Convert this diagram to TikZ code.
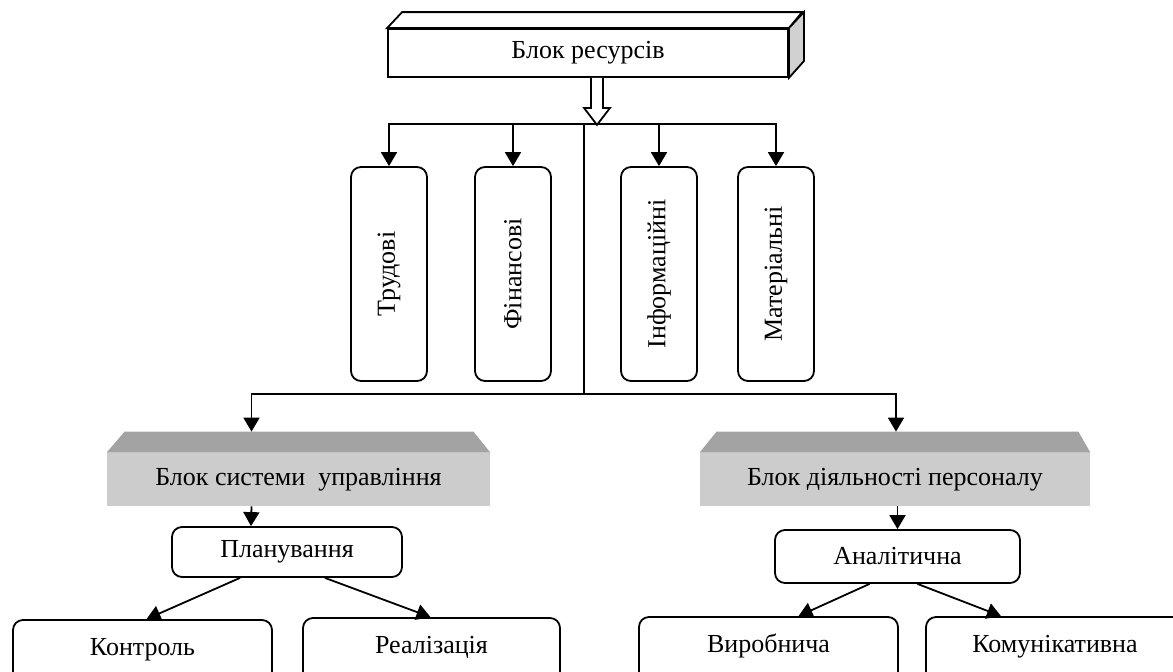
\documentclass[tikz,border=0pt]{standalone}
\usepackage{fontspec}
\setmainfont{Liberation Serif}
\usepackage{graphicx}
\usetikzlibrary{arrows.meta,calc}
\begin{document}
\begin{tikzpicture}[x=0.5pt,y=-0.5pt]
\tikzset{
  lbl/.style={font=\fontsize{13}{15}\selectfont},
  blk/.style={lbl,draw,line width=0.9pt,fill=white,inner sep=0pt},
  rbox/.style={blk,rounded corners=5pt},
  vbox/.style={rbox,minimum width=38pt,minimum height=107pt},
  hbox/.style={rbox,minimum height=25pt},
  lowbox/.style={rbox,anchor=base,text height=17.5pt,text depth=16pt},
  gface/.style={lbl,fill=black!20,inner sep=0pt,minimum height=26.5pt},
  gtop/.style={fill=black!36},
  lnk/.style={line width=0.9pt},
  arr/.style={lnk,-{Triangle[width=8pt,length=7pt]}},
}
\useasboundingbox (0,0) rectangle (1173,671);
\clip (0,0) rectangle (1173,671);

%% Resource block
\node[blk,minimum width=200pt,minimum height=24pt] (res) at (588,53) {Блок ресурсів};
\draw[lnk,fill=white] (res.north west) -- ++(15,-16) -- ++(400,0) -- (res.north east) -- cycle;
\draw[lnk,fill=black!18] (res.north east) -- ++(15,-16) -- ++(0,49) -- (res.south east) -- cycle;
%% hollow arrow
\draw[lnk,fill=white] ($(res.south)+(3,0)$) -- ++(0,30) -- ++(-7,0) -- ++(13,17) -- ++(13,-17) -- ++(-7,0) -- ++(0,-30);

\coordinate (bus) at (584,124);
\coordinate (bus2) at (584,394);

%% Resources
\node[vbox] (trud) at (389,274) {\rotatebox{90}{Трудові}};
\node[vbox] (fin) at (513,274) {\rotatebox{90}{Фінансові}};
\node[vbox] (inf) at (659,274) {\rotatebox{90}{Інформаційні}};
\node[vbox] (mat) at (776,274) {\rotatebox{90}{Матеріальні}};

\draw[lnk] (bus) -- (bus2);
\foreach \n in {trud,fin,inf,mat}
  \draw[arr] (bus) -| (\n.north);

%% Management block
\node[gface,minimum width=191.5pt] (upr) at (298.5,479.5) {Блок системи~ управління};
\fill[gtop] (upr.north west) -- ++(18,-21) -- ($(upr.north east)+(-17,-21)$) -- (upr.north east) -- cycle;
%% Personnel block
\node[gface,minimum width=195pt] (dial) at (895,479.5) {Блок діяльності персоналу};
\fill[gtop] (dial.north west) -- ++(17,-21) -- ($(dial.north east)+(-12,-21)$) -- (dial.north east) -- cycle;

\draw[arr] (bus2) -| ($(upr.north)+(-47,-21)$);
\draw[arr] (bus2) -| ($(dial.north)+(1,-21)$);

%% Second level
\node[hbox,minimum width=115pt] (plan) at (287,552) {Планування};
\node[hbox,minimum width=122.5pt,minimum height=26.5pt] (anal) at (897.5,556.5) {Аналітична};
\draw[arr] ($(upr.south)+(-47,0)$) -- ($(plan.north)+(-36,0)$);
\draw[arr] (anal.north |- dial.south) -- (anal.north);

%% Third level
\node[lowbox,minimum width=129.5pt] (kontr) at (142.5,655) {Контроль};
\node[lowbox,minimum width=128.5pt] (real) at (431.5,653) {Реалізація};
\node[lowbox,minimum width=129.5pt] (vyr) at (768.5,652) {Виробнича};
\node[lowbox,minimum width=129pt] (kom) at (1055,652) {Комунікативна};

\draw[arr] ($(plan.south)+(-47,0)$) -- ($(kontr.north)+(4,0)$);
\draw[arr] ($(plan.south)+(38,0)$) -- ($(real.north)+(-1,0)$);
\draw[arr] ($(anal.south)+(-28,0)$) -- ($(vyr.north)+(30,0)$);
\draw[arr] ($(anal.south)+(20,0)$) -- ($(kom.north)+(-54,0)$);
\end{tikzpicture}
\end{document}
